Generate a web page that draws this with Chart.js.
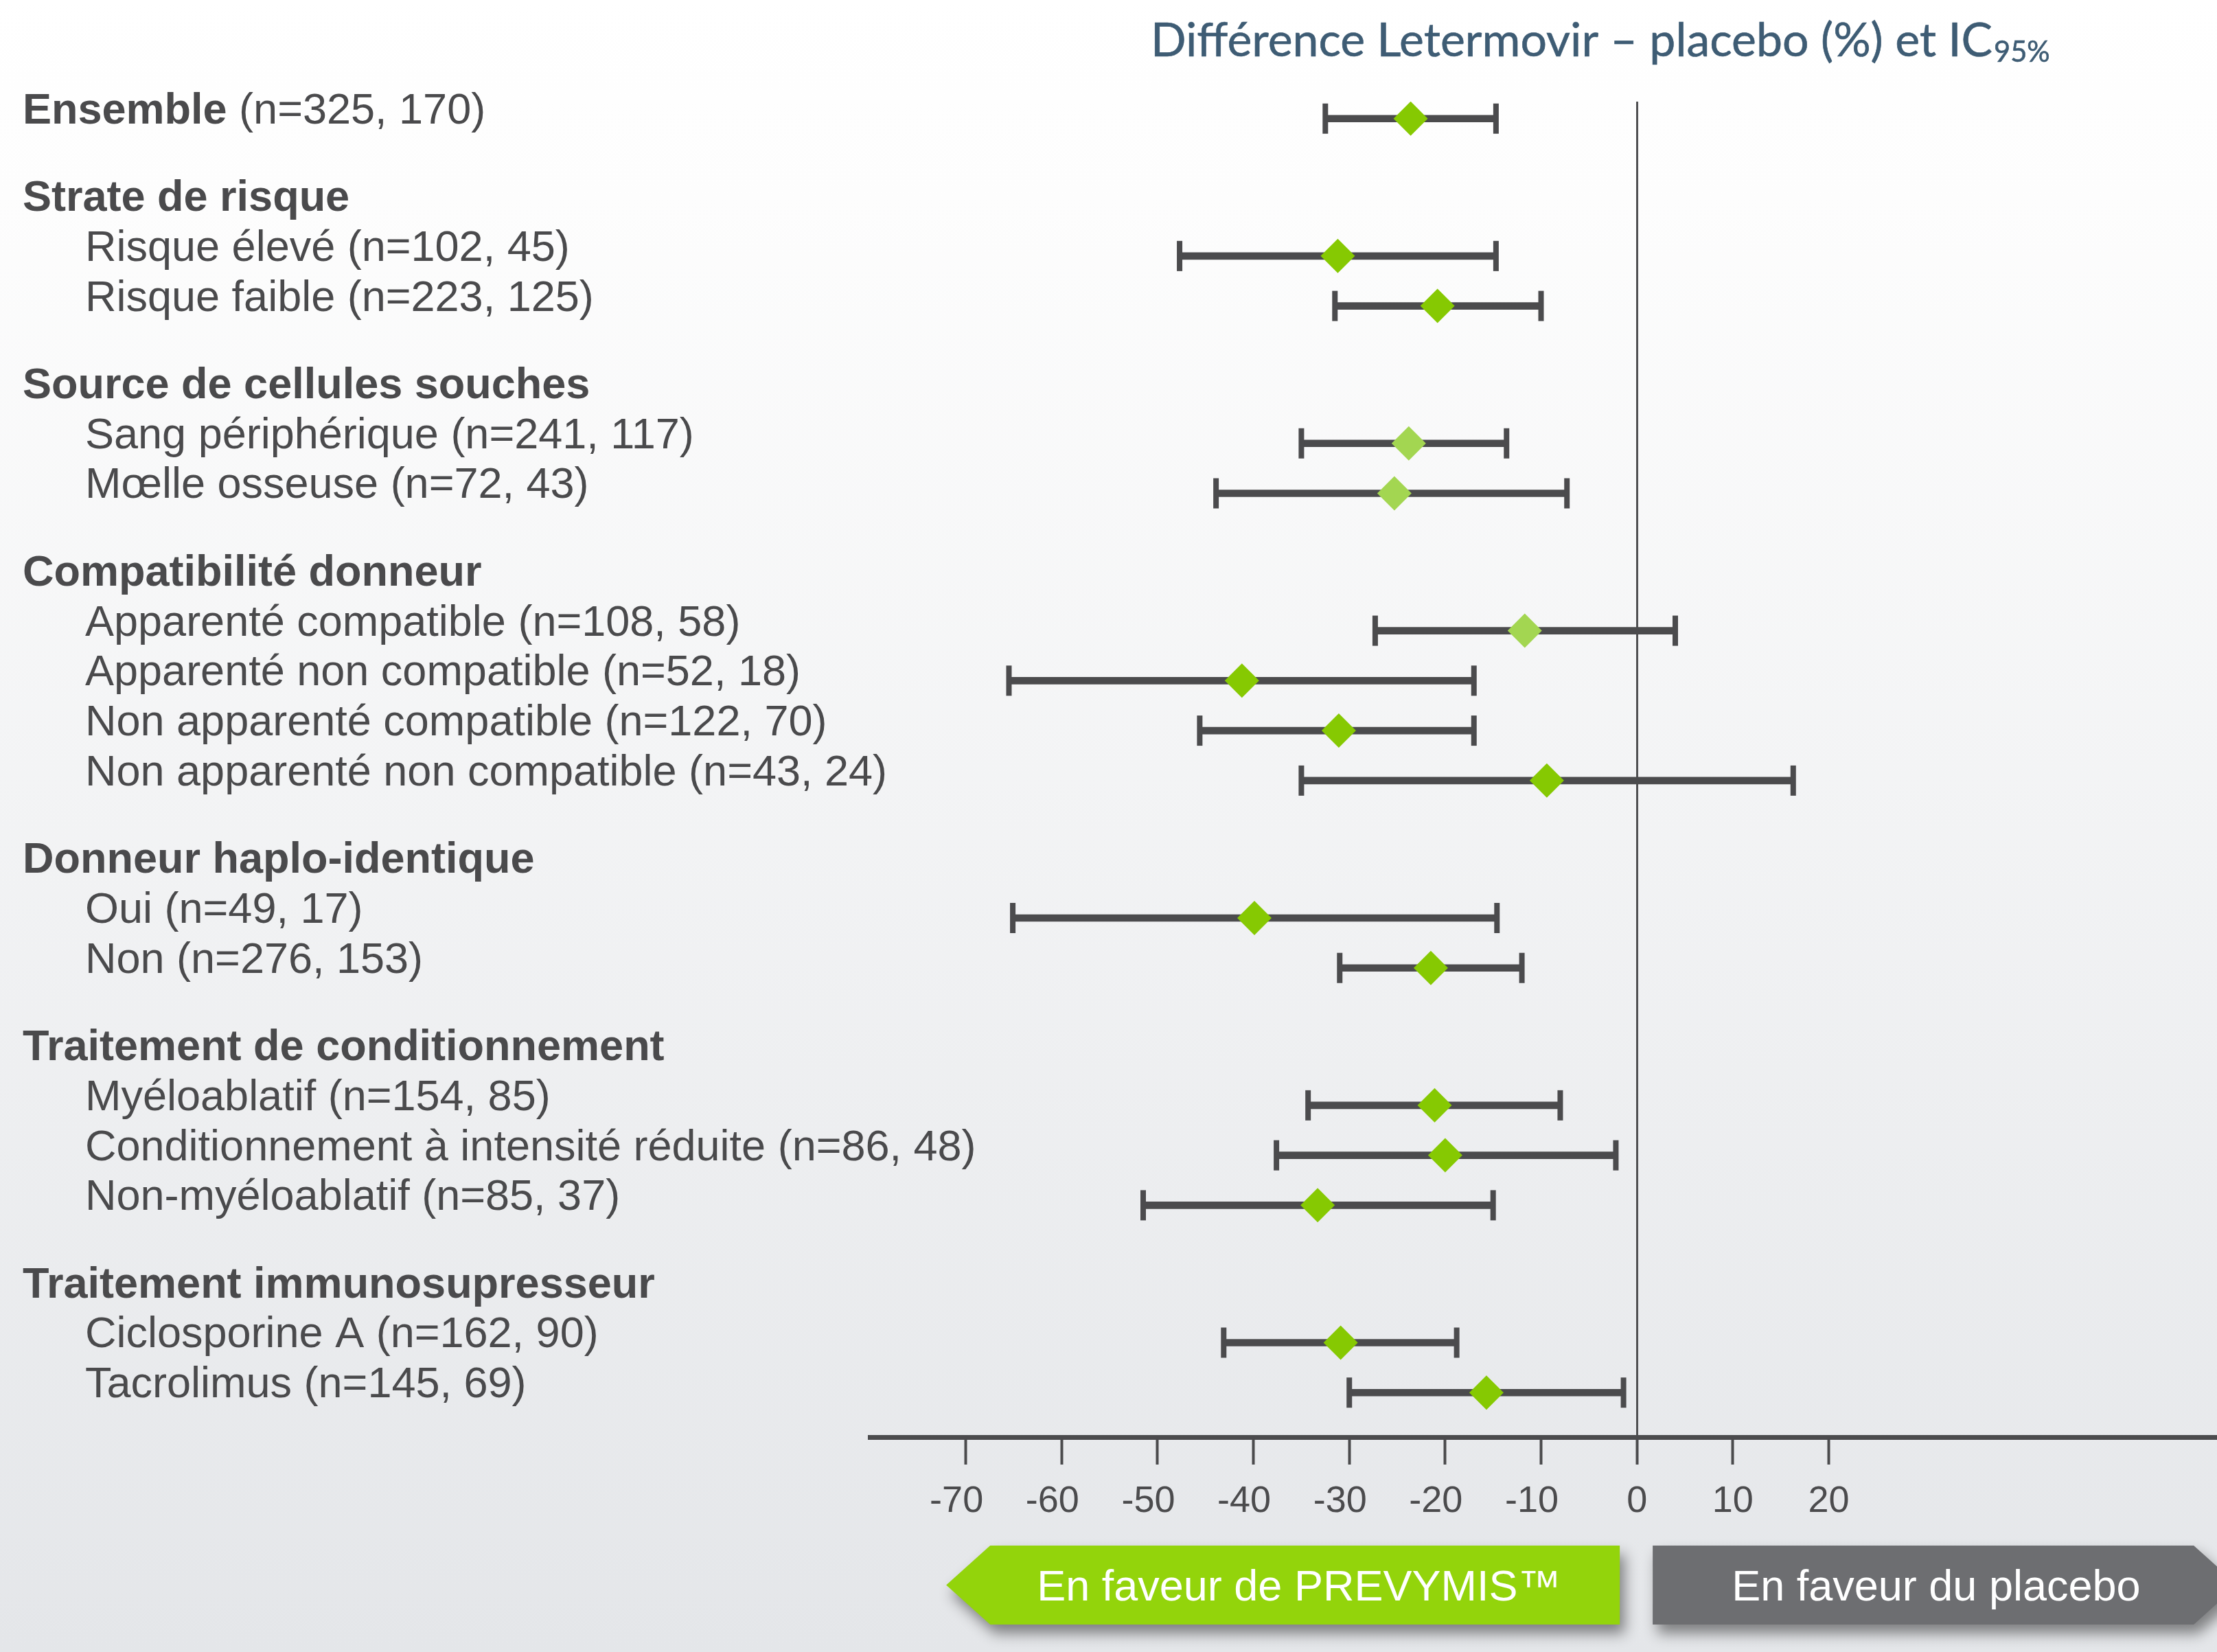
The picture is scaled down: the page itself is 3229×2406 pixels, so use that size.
<!DOCTYPE html>
<html lang="fr">
<head>
<meta charset="utf-8">
<title>Différence Letermovir – placebo (%) et IC95%</title>
<script src="https://cdn.jsdelivr.net/npm/chart.js@4.4.1/dist/chart.umd.min.js"></script>
<style>
  html, body { margin: 0; padding: 0; background: #ffffff; }
  #wrap { width: 3229px; height: 2406px; }
  canvas { display: block; }
</style>
</head>
<body>
<div id="wrap"><canvas id="forest" width="3229" height="2406"></canvas></div>
<script>
// ---- Données : sous-groupes, effectifs (Letermovir, placebo), différence et IC95% ----
const groupTitles = [
  'Ensemble',
  'Strate de risque',
  'Source de cellules souches',
  'Compatibilité donneur',
  'Donneur haplo-identique',
  'Traitement de conditionnement',
  'Traitement immunosupresseur'
];
const rowLabels = [
  'Ensemble',
  'Risque élevé', 'Risque faible',
  'Sang périphérique', 'Mœlle osseuse',
  'Apparenté compatible', 'Apparenté non compatible',
  'Non apparenté compatible', 'Non apparenté non compatible',
  'Oui', 'Non',
  'Myéloablatif', 'Conditionnement à intensité réduite', 'Non-myéloablatif',
  'Ciclosporine A', 'Tacrolimus'
];
const rowGroups = [0, 1, 1, 2, 2, 3, 3, 3, 3, 4, 4, 5, 5, 5, 6, 6];
const sampleSizes = [
  '(n=325, 170)',
  '(n=102, 45)', '(n=223, 125)',
  '(n=241, 117)', '(n=72, 43)',
  '(n=108, 58)', '(n=52, 18)', '(n=122, 70)', '(n=43, 24)',
  '(n=49, 17)', '(n=276, 153)',
  '(n=154, 85)', '(n=86, 48)', '(n=85, 37)',
  '(n=162, 90)', '(n=145, 69)'
];
const estimates = [-23.6, -31.2, -20.8, -23.8, -25.3, -11.7, -41.2, -31.1, -9.4, -39.9, -21.5, -21.1, -20.0, -33.3, -30.9, -15.7];
const ciLower   = [-32.5, -47.7, -31.5, -35.0, -43.9, -27.3, -65.5, -45.6, -35.0, -65.1, -31.0, -34.3, -37.6, -51.5, -43.1, -30.0];
const ciUpper   = [-14.7, -14.7, -10.0, -13.6,  -7.3,   4.0, -17.0, -17.0,  16.3, -14.6, -12.0,  -8.0,  -2.2, -15.0, -18.8,  -1.4];
const tickValues = [-70, -60, -50, -40, -30, -20, -10, 0, 10, 20];

// ---- Styles ----
const FONT = '"Liberation Sans", Arial, Helvetica, sans-serif';
const TITLE_FONT = 'Lato, "Open Sans", sans-serif';
const INK = '#4b4b4d';
const TEXT = '#4a4a4c';
const GREEN = '#86c902';
const GREEN_SOFT = '#a3d651';
const softRows = new Set(['Sang périphérique', 'Mœlle osseuse', 'Apparenté compatible']);
const BTN_GREEN = '#93d40b';
const BTN_GRAY = '#6d6e71';
const TITLE_COLOR = '#3e5c74';

// ---- Mise en page verticale : une ligne par sous-groupe, un titre par groupe ----
const GROUP_GAP = 0.75;
const rowPos = [];
const headerPos = [];
let cursor = 0;
rowGroups.forEach((g, i) => {
  if (i === 0) { rowPos.push(0); headerPos[g] = 0; return; }
  if (g !== rowGroups[i - 1]) { cursor += 1 + GROUP_GAP; headerPos[g] = cursor; }
  cursor += 1;
  rowPos.push(cursor);
});

const ciData = rowLabels.map((_, i) => ({ x: [ciLower[i], ciUpper[i]], y: rowPos[i] }));
const capData = rowLabels.flatMap((_, i) => [
  { x: ciLower[i], y: rowPos[i] },
  { x: ciUpper[i], y: rowPos[i] }
]);
const estData = rowLabels.map((_, i) => ({ x: estimates[i], y: rowPos[i] }));

// ---- Fond, libellés, titre et bandeaux ----
const forestDecor = {
  id: 'forestDecor',
  beforeDraw(chart) {
    const { ctx, width, height } = chart;
    const grad = ctx.createLinearGradient(0, 0, 0, height);
    grad.addColorStop(0, '#ffffff');
    grad.addColorStop(0.12, '#fdfdfd');
    grad.addColorStop(1, '#e4e6e9');
    ctx.save();
    ctx.fillStyle = grad;
    ctx.fillRect(0, 0, width, height);
    ctx.restore();
  },
  afterDraw(chart) {
    const { ctx } = chart;
    const yScale = chart.scales.y;
    const xScale = chart.scales.x;
    const BASE = 7;
    ctx.save();
    ctx.textAlign = 'left';
    ctx.textBaseline = 'alphabetic';
    ctx.fillStyle = TEXT;

    // Titres de groupes (gras)
    groupTitles.forEach((title, g) => {
      const y = yScale.getPixelForValue(headerPos[g]) + BASE;
      ctx.font = 'bold 63px ' + FONT;
      ctx.fillText(title, 33, y);
      if (g === 0) {
        const w = ctx.measureText(title).width;
        ctx.font = '63px ' + FONT;
        ctx.fillText(' ' + sampleSizes[0], 33 + w, y);
      }
    });
    // Sous-groupes
    ctx.font = '63px ' + FONT;
    rowLabels.forEach((label, i) => {
      if (i === 0) return;
      const y = yScale.getPixelForValue(rowPos[i]) + BASE;
      ctx.fillText(label + ' ' + sampleSizes[i], 124, y);
    });

    // Titre de l'axe
    const main = 'Différence Letermovir – placebo (%) et IC';
    const sub = '95%';
    const targetW = 1310;
    ctx.font = '62px ' + TITLE_FONT;
    let wMain = ctx.measureText(main).width;
    ctx.font = '38px ' + TITLE_FONT;
    let wSub = ctx.measureText(sub).width;
    const k = targetW / (wMain + wSub + 2);
    const fMain = 62 * k, fSub = 38 * k;
    ctx.fillStyle = TITLE_COLOR;
    ctx.strokeStyle = TITLE_COLOR;
    ctx.lineWidth = 0.6;
    ctx.font = fMain + 'px ' + TITLE_FONT;
    wMain = ctx.measureText(main).width;
    ctx.fillText(main, 1676, 82);
    ctx.strokeText(main, 1676, 82);
    ctx.font = fSub + 'px ' + TITLE_FONT;
    ctx.fillText(sub, 1676 + wMain + 2, 90);
    ctx.strokeText(sub, 1676 + wMain + 2, 90);

    // Bandeaux « en faveur de »
    const zero = xScale.getPixelForValue(0);
    const top = 2251, bottom = 2366, mid = (top + bottom) / 2, notch = 64;
    const gTip = zero - 1006, gRight = zero - 25;
    const pLeft = zero + 23, pRight = zero + 811;
    const shape = (pts, color) => {
      ctx.save();
      ctx.shadowColor = 'rgba(0,0,0,0.45)';
      ctx.shadowBlur = 20;
      ctx.shadowOffsetX = 7;
      ctx.shadowOffsetY = 13;
      ctx.fillStyle = color;
      ctx.beginPath();
      pts.forEach(([px, py], j) => (j ? ctx.lineTo(px, py) : ctx.moveTo(px, py)));
      ctx.closePath();
      ctx.fill();
      ctx.restore();
    };
    shape([[gTip, mid], [gTip + notch, top], [gRight, top], [gRight, bottom], [gTip + notch, bottom]], BTN_GREEN);
    shape([[pLeft, top], [pRight, top], [pRight + notch, mid], [pRight, bottom], [pLeft, bottom]], BTN_GRAY);
    ctx.fillStyle = '#ffffff';
    ctx.font = '63px ' + FONT;
    ctx.fillText('En faveur de PREVYMIS™', gTip + 132, 2331);
    ctx.fillText('En faveur du placebo', pLeft + 115, 2331);
    ctx.restore();
  }
};

new Chart(document.getElementById('forest'), {
  type: 'scatter',
  data: {
    datasets: [
      {
        type: 'bar',
        label: 'IC95%',
        indexAxis: 'y',
        data: ciData,
        backgroundColor: INK,
        borderWidth: 0,
        barThickness: 10,
        order: 3
      },
      {
        type: 'scatter',
        label: 'Bornes',
        data: capData,
        pointStyle: 'line',
        rotation: 90,
        radius: 22,
        borderColor: INK,
        borderWidth: 8,
        order: 2
      },
      {
        type: 'scatter',
        label: 'Différence',
        data: estData,
        pointStyle: 'rectRot',
        radius: 25,
        borderWidth: 0,
        backgroundColor: c => (softRows.has(rowLabels[c.dataIndex]) ? GREEN_SOFT : GREEN),
        order: 1
      }
    ]
  },
  options: {
    responsive: false,
    devicePixelRatio: 1,
    animation: false,
    events: [],
    layout: { autoPadding: false, padding: { left: 1267, right: 0, top: 148, bottom: 0 } },
    plugins: { legend: { display: false }, tooltip: { enabled: false }, title: { display: false } },
    scales: {
      x: {
        type: 'linear',
        position: 'bottom',
        min: -80,
        max: 60.5,
        offset: false,
        afterFit: s => { s.height = 313; s.paddingLeft = 0; s.paddingRight = 0; },
        afterBuildTicks: s => { s.ticks = tickValues.map(v => ({ value: v })); },
        grid: {
          offset: false,
          drawOnChartArea: true,
          drawTicks: true,
          color: c => (c.tick && c.tick.value === 0 ? '#505052' : 'rgba(0,0,0,0)'),
          lineWidth: 3,
          tickLength: 40,
          tickWidth: 4,
          tickColor: INK
        },
        border: { display: true, color: INK, width: 7 },
        ticks: {
          autoSkip: false,
          maxRotation: 0,
          padding: 22,
          color: INK,
          font: { family: FONT, size: 54 },
          callback: v => (v < 0 ? v + '\u2002' : String(v))
        }
      },
      y: {
        type: 'linear',
        reverse: true,
        offset: false,
        grid: { offset: false },
        min: -0.34,
        max: 26.39,
        display: false
      }
    }
  },
  plugins: [forestDecor]
});
</script>
</body>
</html>
